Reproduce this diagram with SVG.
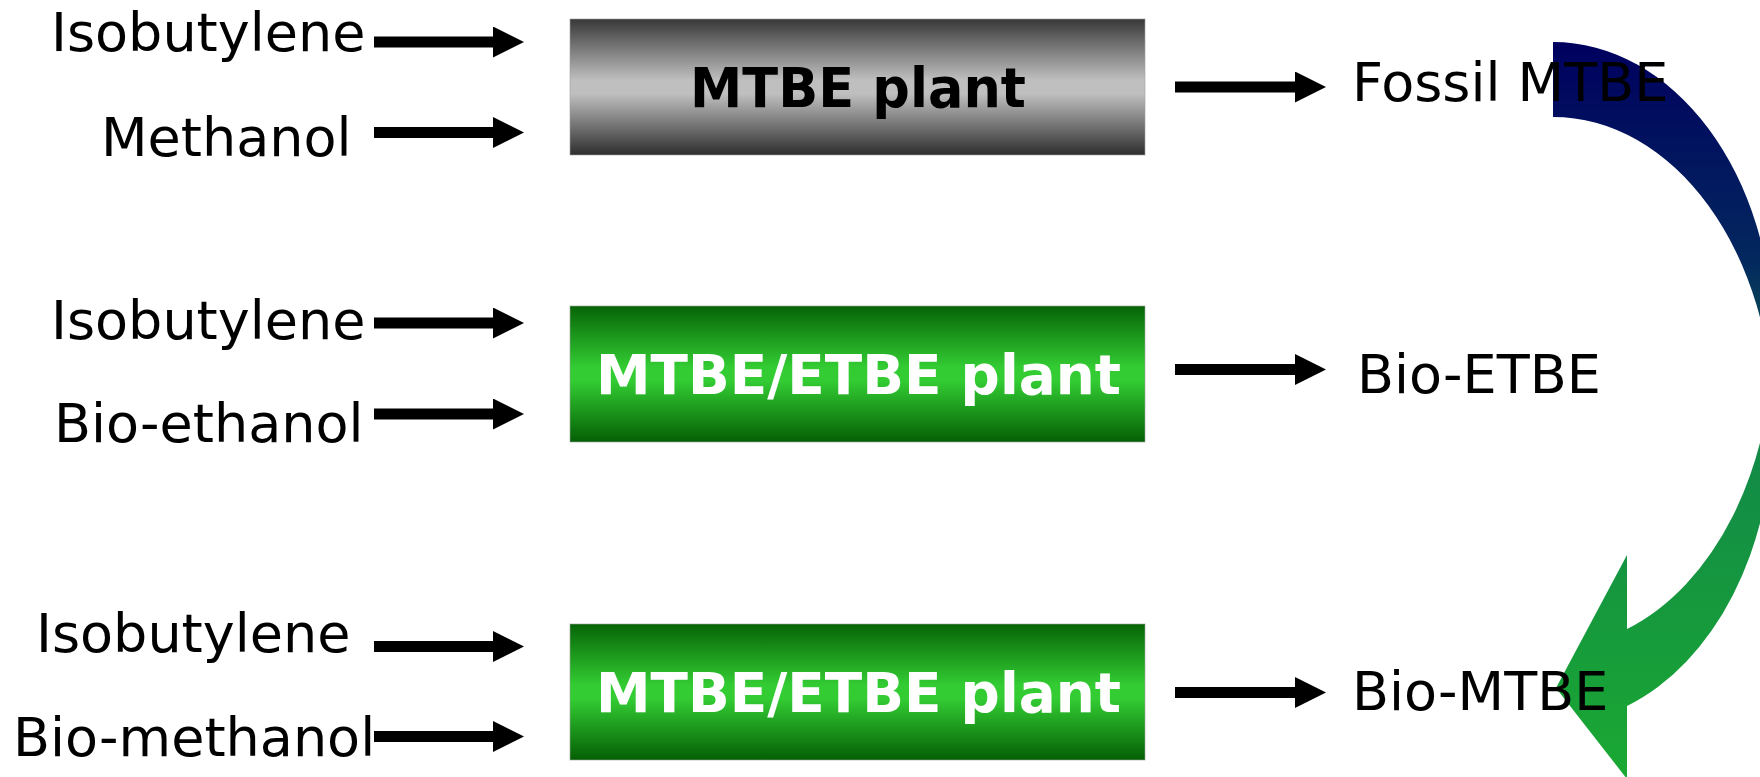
<svg xmlns="http://www.w3.org/2000/svg" width="1760" height="777" viewBox="0 0 1760 777">
  <style>
    .lbl { font-family: "DejaVu Sans", "Liberation Sans", sans-serif; font-size: 54px; fill: #000; }
    .plant { font-family: "DejaVu Sans", "Liberation Sans", sans-serif; font-size: 55px; font-weight: bold; text-anchor: middle; }
    .conn { stroke: #000; stroke-width: 11; stroke-linecap: butt; fill: none; marker-end: url(#head); }
    .box { stroke: #a0a0a0; stroke-opacity: 0.6; stroke-width: 1; }
  </style>
  <defs>
    <marker id="head" markerUnits="userSpaceOnUse" viewBox="0 0 31 31" markerWidth="31" markerHeight="31" refX="0" refY="15.5" orient="auto">
      <path d="M0,0 L31,15.5 L0,31 Z" fill="#000"/>
    </marker>
    <linearGradient id="gray" x1="0" y1="0" x2="0" y2="1">
      <stop offset="0" stop-color="#383838"/>
      <stop offset="0.45" stop-color="#bfbfbf"/>
      <stop offset="0.55" stop-color="#bfbfbf"/>
      <stop offset="1" stop-color="#2e2e2e"/>
    </linearGradient>
    <linearGradient id="green" x1="0" y1="0" x2="0" y2="1">
      <stop offset="0" stop-color="#066406"/>
      <stop offset="0.45" stop-color="#33cc33"/>
      <stop offset="0.55" stop-color="#33cc33"/>
      <stop offset="1" stop-color="#045f04"/>
    </linearGradient>
    <linearGradient id="curve" gradientUnits="userSpaceOnUse" x1="0" y1="42" x2="0" y2="777">
      <stop offset="0" stop-color="#00005f"/>
      <stop offset="0.3" stop-color="#03285e"/>
      <stop offset="0.55" stop-color="#128a48"/>
      <stop offset="1" stop-color="#1aa832"/>
    </linearGradient>
  </defs>

  <g id="curved-arrow" fill="url(#curve)">
    <path d="M1553,42 A220,296 0 0 1 1773,338 A220,309 0 0 1 1627,629 L1627,706 A220,303 0 0 0 1773,420 A220,303 0 0 0 1553,117 Z"/>
    <path d="M1627,555 L1556,688 L1627,779 Z"/>
  </g>

  <g id="connectors">
    <line class="conn" x1="374" y1="42" x2="493" y2="42"/>
    <line class="conn" x1="374" y1="132.5" x2="493" y2="132.5"/>
    <line class="conn" x1="374" y1="323" x2="493" y2="323"/>
    <line class="conn" x1="374" y1="414" x2="493" y2="414"/>
    <line class="conn" x1="374" y1="646.5" x2="493" y2="646.5"/>
    <line class="conn" x1="374" y1="736.5" x2="493" y2="736.5"/>
    <line class="conn" x1="1175" y1="87" x2="1295" y2="87"/>
    <line class="conn" x1="1175" y1="369.5" x2="1295" y2="369.5"/>
    <line class="conn" x1="1175" y1="692.5" x2="1295" y2="692.5"/>
  </g>

  <g id="in-isobutylene-1"><text class="lbl" x="51" y="51">Isobutylene</text></g>
  <g id="in-methanol"><text class="lbl" x="101" y="155.5">Methanol</text></g>
  <g id="in-isobutylene-2"><text class="lbl" x="51" y="338.5">Isobutylene</text></g>
  <g id="in-bioethanol"><text class="lbl" x="54" y="441.5">Bio-ethanol</text></g>
  <g id="in-isobutylene-3"><text class="lbl" x="36" y="652">Isobutylene</text></g>
  <g id="in-biomethanol"><text class="lbl" x="13" y="756">Bio-methanol</text></g>

  <g id="plant-mtbe">
    <rect class="box" x="570" y="19" width="575" height="136" fill="url(#gray)"/>
    <text class="plant" x="858" y="106.5" fill="#000" textLength="336" lengthAdjust="spacingAndGlyphs">MTBE plant</text>
  </g>
  <g id="plant-etbe-1">
    <rect class="box" x="570" y="306" width="575" height="136" fill="url(#green)"/>
    <text class="plant" x="858.5" y="394" fill="#fff" textLength="525" lengthAdjust="spacingAndGlyphs">MTBE/ETBE plant</text>
  </g>
  <g id="plant-etbe-2">
    <rect class="box" x="570" y="624" width="575" height="136" fill="url(#green)"/>
    <text class="plant" x="858.5" y="711.5" fill="#fff" textLength="525" lengthAdjust="spacingAndGlyphs">MTBE/ETBE plant</text>
  </g>

  <g id="out-fossil-mtbe"><text class="lbl" x="1352" y="100.5">Fossil MTBE</text></g>
  <g id="out-bio-etbe"><text class="lbl" x="1357" y="392.5">Bio-ETBE</text></g>
  <g id="out-bio-mtbe"><text class="lbl" x="1352" y="710">Bio-MTBE</text></g>
</svg>
